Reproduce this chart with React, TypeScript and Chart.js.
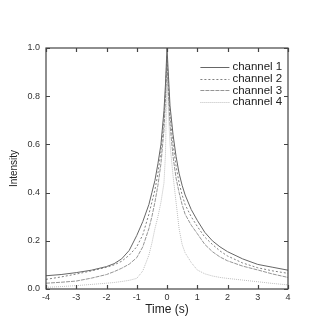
import React, { useEffect, useRef } from "react";
import { Chart, registerables } from "chart.js";

Chart.register(...registerables);

const timeValues = [-4, -3.5, -3, -2.5, -2, -1.75, -1.5, -1.25, -1, -0.8, -0.6, -0.5, -0.4, -0.3, -0.2, -0.1, -0.05, 0, 0.05, 0.1, 0.2, 0.3, 0.4, 0.5, 0.6, 0.8, 1, 1.25, 1.5, 1.75, 2, 2.5, 3, 3.5, 4];

const channel1 = [0.055, 0.06, 0.068, 0.078, 0.093, 0.105, 0.125, 0.16, 0.222, 0.28, 0.35, 0.4, 0.45, 0.52, 0.6, 0.74, 0.85, 1.0, 0.88, 0.76, 0.64, 0.55, 0.48, 0.43, 0.39, 0.33, 0.285, 0.235, 0.2, 0.175, 0.155, 0.125, 0.102, 0.09, 0.078];
const channel2 = [0.04, 0.05, 0.062, 0.075, 0.09, 0.1, 0.115, 0.14, 0.175, 0.225, 0.31, 0.36, 0.41, 0.48, 0.57, 0.7, 0.82, 0.97, 0.84, 0.72, 0.6, 0.51, 0.44, 0.39, 0.35, 0.3, 0.26, 0.215, 0.185, 0.158, 0.137, 0.108, 0.088, 0.075, 0.065];
const channel3 = [0.024, 0.028, 0.033, 0.045, 0.06, 0.072, 0.086, 0.103, 0.13, 0.175, 0.25, 0.3, 0.36, 0.43, 0.52, 0.66, 0.79, 0.95, 0.8, 0.68, 0.55, 0.46, 0.4, 0.35, 0.31, 0.265, 0.23, 0.185, 0.155, 0.133, 0.117, 0.095, 0.079, 0.062, 0.048];
const channel4 = [0.007, 0.01, 0.014, 0.019, 0.024, 0.027, 0.031, 0.036, 0.044, 0.075, 0.14, 0.19, 0.25, 0.3, 0.36, 0.44, 0.56, 0.9, 0.72, 0.6, 0.47, 0.36, 0.25, 0.185, 0.15, 0.11, 0.079, 0.063, 0.054, 0.048, 0.044, 0.037, 0.03, 0.023, 0.017];

const seriesLabels = ["channel 1", "channel 2", "channel 3", "channel 4"];
const xTicks = [-4, -3, -2, -1, 0, 1, 2, 3, 4];
const yTicks = [0, 0.2, 0.4, 0.6, 0.8, 1.0];

const FONT = "'Liberation Sans', Arial, sans-serif";

const styles = [
  { color: "#666666", dash: [] as number[] },
  { color: "#808080", dash: [2, 2] },
  { color: "#959595", dash: [4, 1] },
  { color: "#bdbdbd", dash: [1, 1] },
];

const framePlugin = {
  id: "frame",
  afterDatasetsDraw(chart: any) {
    const { ctx, chartArea, scales } = chart;
    const { left, right, top, bottom } = chartArea;
    ctx.save();
    ctx.strokeStyle = "#444";
    ctx.lineWidth = 1.2;
    ctx.strokeRect(left, top, right - left, bottom - top);
    const len = 4;
    ctx.beginPath();
    xTicks.forEach((v) => {
      const px = Math.round(scales.x.getPixelForValue(v)) + 0.5;
      ctx.moveTo(px, bottom);
      ctx.lineTo(px, bottom - len);
      ctx.moveTo(px, top);
      ctx.lineTo(px, top + len);
    });
    yTicks.forEach((v) => {
      const py = Math.round(scales.y.getPixelForValue(v)) + 0.5;
      ctx.moveTo(left, py);
      ctx.lineTo(left + len, py);
      ctx.moveTo(right, py);
      ctx.lineTo(right - len, py);
    });
    ctx.stroke();

    // legend inside plot
    const lx0 = left + (right - left) * 0.638;
    const lx1 = lx0 + 29;
    const ty = top + 19;
    ctx.font = `11.5px ${FONT}`;
    ctx.textBaseline = "middle";
    ctx.fillStyle = "#222";
    seriesLabels.forEach((lab, i) => {
      const y = ty + i * 11.7;
      ctx.beginPath();
      ctx.strokeStyle = styles[i].color;
      ctx.lineWidth = 1;
      ctx.setLineDash(styles[i].dash);
      ctx.moveTo(lx0, Math.round(y) + 0.5);
      ctx.lineTo(lx1, Math.round(y) + 0.5);
      ctx.stroke();
      ctx.setLineDash([]);
      ctx.fillText(lab, lx1 + 3, y);
    });
    ctx.restore();
  },
};

export default function App() {
  const ref = useRef<HTMLCanvasElement>(null);
  useEffect(() => {
    document.body.style.margin = "0";
    const series = [channel1, channel2, channel3, channel4];
    const chart = new Chart(ref.current as HTMLCanvasElement, {
      type: "line",
      data: {
        datasets: series.map((s, i) => ({
          label: seriesLabels[i],
          data: timeValues.map((t, j) => ({ x: t, y: s[j] })),
          borderColor: styles[i].color,
          borderDash: styles[i].dash,
          borderWidth: 1,
          pointRadius: 0,
          tension: 0,
          fill: false,
        })),
      },
      options: {
        animation: false,
        responsive: false,
        maintainAspectRatio: false,
        layout: { padding: { top: 48, right: 29, left: 8, bottom: 11 } },
        plugins: { legend: { display: false }, tooltip: { enabled: false } },
        scales: {
          x: {
            type: "linear",
            min: -4,
            max: 4,
            grid: { display: false, drawTicks: false },
            border: { display: false },
            afterBuildTicks: (scale: any) => {
              scale.ticks = xTicks.map((v) => ({ value: v }));
            },
            afterFit: (scale: any) => {
              scale.height = 28;
            },
            ticks: {
              font: { family: FONT, size: 9 },
              color: "#333",
              padding: 3,
              maxRotation: 0,
              callback: (v: any) => String(v),
            },
            title: {
              display: true,
              text: "Time (s)",
              font: { family: FONT, size: 12 },
              color: "#222",
              padding: { top: 2, bottom: 0 },
            },
          },
          y: {
            type: "linear",
            min: 0,
            max: 1,
            grid: { display: false, drawTicks: false },
            border: { display: false },
            afterBuildTicks: (scale: any) => {
              scale.ticks = yTicks.map((v) => ({ value: v }));
            },
            afterFit: (scale: any) => {
              scale.width = 38;
            },
            ticks: {
              font: { family: FONT, size: 9 },
              color: "#333",
              padding: 6,
              callback: (v: any) => Number(v).toFixed(1),
            },
            title: {
              display: true,
              text: "Intensity",
              font: { family: FONT, size: 10 },
              color: "#222",
              padding: { top: 0, bottom: 0 },
            },
          },
        },
      },
      plugins: [framePlugin],
    });
    return () => chart.destroy();
  }, []);
  return (
    <div style={{ width: 317, height: 328, background: "#fff" }}>
      <canvas ref={ref} width={317} height={328} style={{ display: "block" }} />
    </div>
  );
}
